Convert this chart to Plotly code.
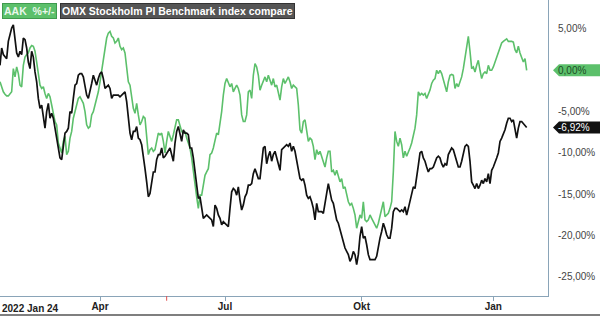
import plotly.graph_objects as go

# Percent change series (sampled evenly over one year, Jan 24 2022 -> Jan 2023)
aak = [
    -1.4,-2.0,-2.6,-2.9,-3.1,-3.1,-2.8,-2.6,0.2,-0.8,
    0.4,-0.4,-1.8,-2.0,0.6,1.6,1.9,2.1,2.7,3.0,
    2.9,2.3,1.0,-0.4,-1.8,-2.2,-2.0,-2.8,-3.4,-2.8,
    -3.2,-4.2,-5.4,-6.2,-6.6,-8.8,-9.4,-10.0,-8.6,-8.0,
    -10.2,-9.8,-8.2,-7.4,-5.8,-5.0,-4.0,-3.4,-3.2,-3.6,
    -4.0,-5.0,-6.6,-7.0,-6.8,-5.4,-5.0,-4.2,-3.4,-2.6,
    -1.4,0.0,1.0,2.3,3.9,4.5,4.7,4.1,3.9,3.3,
    3.5,3.9,2.9,2.5,2.7,2.1,0.6,-1.4,
    -1.8,-3.0,-4.6,-5.2,-4.0,-5.4,-6.6,-6.2,-5.6,-5.8,
    -7.8,-10.2,-9.6,-9.4,-9.8,-9.6,-8.6,-7.6,-7.8,-7.6,
    -8.6,-10.0,-8.6,-7.4,-8.0,-8.6,-7.8,-7.0,-6.0,-6.0,
    -6.6,-7.4,-7.6,-7.4,-8.2,-8.8,-9.4,-10.6,-12.3,-14.3,
    -15.3,-16.7,-15.1,-15.1,-13.9,-12.7,-12.3,-11.9,-10.2,-10.0,
    -9.4,-8.4,-7.6,-7.8,-6.6,-5.0,-3.0,-1.6,-1.0,-1.6,
    -2.0,-1.6,-2.6,-2.2,-1.8,-2.2,-3.0,-5.4,-6.2,-6.2,
    -5.4,-2.6,-2.4,-3.4,-0.6,0.8,0.4,-0.6,
    -2.4,-1.8,-1.2,-0.8,-1.4,-0.6,-1.2,-1.8,-1.0,-2.0,
    -1.8,-2.6,-3.6,-2.0,-1.0,-1.6,-1.2,-0.8,-1.4,-2.2,
    -1.8,-2.0,-2.2,-4.2,-7.2,-7.6,-6.2,-6.0,-7.4,-8.6,
    -8.2,-8.4,-9.2,-10.8,-9.6,-10.2,-9.8,-10.4,-11.0,-11.7,
    -10.6,-9.8,-9.8,-12.3,-12.1,-12.7,-12.1,-12.7,-13.5,-13.1,
    -14.3,-14.1,-14.9,-15.9,-16.3,-16.1,-16.7,-17.5,-19.1,-18.3,
    -17.5,-17.9,-15.9,-18.1,-18.3,-18.1,-17.5,-17.9,-18.3,-18.7,
    -19.1,-18.5,-17.5,-16.7,-15.9,-17.7,-17.5,-17.3,
    -16.7,-15.9,-12.3,-7.4,-8.6,-9.2,-8.2,-9.0,-10.6,-9.8,
    -10.4,-10.0,-9.4,-8.8,-7.8,-7.0,-5.4,-2.6,-3.0,-2.8,
    -3.0,-2.8,-3.4,-3.0,-2.4,-1.6,-1.2,-1.0,0.0,-0.4,
    0.0,-0.4,-1.2,-2.0,-2.6,-1.4,-0.6,-0.5,-0.6,-2.2,
    -1.6,-2.0,-1.4,-0.8,0.2,1.4,2.7,4.1,2.3,0.2,
    0.4,-0.2,0.6,1.2,0.0,-1.0,-0.4,-0.2,-0.4,0.6,
    0.0,0.0,0.4,1.0,1.6,2.3,2.9,3.3,3.5,3.7,
    3.8,3.5,3.5,3.5,3.4,2.5,2.1,2.9,2.1,1.6,
    1.0,1.4,0.0,
]

omx = [
    0.6,2.7,1.9,1.6,1.4,3.5,4.3,5.1,5.5,3.5,
    2.1,1.6,2.3,1.9,3.9,3.7,2.7,1.0,0.2,2.3,
    1.6,-0.2,-1.4,-3.4,-4.6,-4.2,-5.4,-7.0,-5.0,-4.0,
    -5.8,-5.2,-5.8,-7.0,-7.8,-9.4,-10.6,-10.8,-9.4,-7.6,
    -7.4,-7.0,-5.0,-5.2,-3.4,-1.8,-1.6,-0.6,-0.4,-0.4,
    -0.8,-1.8,-3.0,-3.4,-2.6,-1.6,-0.6,-1.2,-1.8,-1.0,
    -0.4,-0.2,-1.0,-2.2,-2.0,-1.8,-2.2,-3.4,-3.0,-3.0,
    -3.0,-3.0,-3.2,-3.0,-2.8,-2.6,-3.8,-5.4,
    -7.6,-8.4,-7.4,-7.4,-6.8,-8.2,-8.4,-9.0,-10.2,-11.9,
    -13.5,-15.3,-14.9,-13.5,-12.3,-12.3,-10.8,-10.2,-10.2,-9.4,
    -10.6,-10.4,-10.0,-9.8,-9.4,-10.2,-11.0,-8.8,-7.4,-6.8,
    -7.6,-8.6,-7.2,-7.6,-7.6,-7.8,-9.4,-9.4,-10.6,-12.3,
    -13.9,-15.5,-15.3,-16.7,-17.9,-17.7,-17.5,-17.7,-17.9,-18.1,
    -18.9,-16.3,-16.7,-17.5,-17.9,-18.7,-18.3,-18.5,-18.7,-18.9,
    -16.7,-14.7,-14.3,-14.5,-15.1,-14.1,-15.7,-16.9,-16.3,-15.3,
    -14.9,-13.9,-13.9,-13.7,-12.5,-11.9,-12.5,-13.1,
    -13.1,-11.5,-9.4,-9.2,-11.3,-10.4,-9.8,-11.0,-10.2,-9.8,
    -10.6,-11.3,-12.1,-9.6,-9.4,-9.2,-9.0,-9.2,-8.8,-9.8,
    -9.2,-9.8,-11.0,-12.3,-13.1,-13.3,-13.1,-13.9,-15.1,-15.5,
    -15.3,-15.9,-16.7,-18.1,-16.1,-17.1,-17.1,-17.1,-17.3,-16.3,
    -14.9,-13.7,-14.7,-15.7,-16.1,-17.1,-18.1,-18.5,-19.3,-19.9,
    -20.7,-21.5,-21.9,-22.3,-23.1,-22.7,-21.9,-22.3,-23.5,-22.3,
    -20.1,-18.9,-20.3,-20.1,-21.1,-22.3,-22.9,-22.9,-22.9,-22.9,
    -22.5,-21.1,-20.3,-19.5,-18.5,-19.1,-19.9,-20.3,
    -20.3,-19.1,-17.1,-16.7,-16.7,-16.9,-17.1,-16.9,-17.1,-16.5,
    -17.5,-16.7,-15.9,-15.1,-14.1,-14.3,-13.1,-11.5,-10.0,-9.8,
    -10.6,-11.0,-11.7,-12.3,-11.9,-11.9,-11.7,-11.0,-10.6,-10.4,
    -10.6,-11.3,-11.7,-11.3,-11.5,-10.2,-9.8,-9.4,-9.6,-10.2,
    -11.0,-11.7,-11.7,-11.0,-10.2,-9.2,-9.0,-9.2,-11.0,-13.5,
    -13.9,-14.3,-13.7,-14.3,-13.9,-13.3,-13.7,-13.1,-13.5,-12.5,
    -13.7,-12.1,-11.7,-11.0,-10.6,-10.0,-8.6,-8.2,-7.8,-7.2,
    -6.4,-5.8,-5.8,-6.2,-6.0,-7.0,-8.2,-7.0,-6.2,-6.2,
    -6.4,-6.6,-6.92,
]

x_tick_pos = [60, 135, 217, 296]
x_tick_text = ["Apr", "Jul", "Okt", "Jan"]
start_label = "2022 Jan 24"
y_tick_vals = [5, 0, -5, -10, -15, -20, -25]
y_tick_text = ["5,00%", "0,00%", "-5,00%", "-10,00%", "-15,00%", "-20,00%", "-25,00%"]
event_pos = [100]

GREEN = "#5cc06b"
BLACK = "#111111"
AXIS = "#8aa4b8"
FONT = "Liberation Sans, Arial, sans-serif"

fig = go.Figure()
fig.add_trace(go.Scatter(x=list(range(len(aak))), y=aak, mode="lines",
                         line=dict(color=GREEN, width=1.6), showlegend=False))
fig.add_trace(go.Scatter(x=list(range(len(omx))), y=omx, mode="lines",
                         line=dict(color=BLACK, width=1.7), showlegend=False))

fig.update_layout(
    width=600, height=316,
    margin=dict(l=0, r=52, t=0, b=20),
    paper_bgcolor="white", plot_bgcolor="white",
    font=dict(family=FONT, size=10, color="#333"),
    xaxis=dict(range=[0, 328.8], showgrid=False, zeroline=False,
               showline=True, linecolor=AXIS, linewidth=1,
               tickvals=x_tick_pos, ticktext=["<b>%s</b>" % t for t in x_tick_text],
               ticks="outside", ticklen=4, tickcolor=AXIS,
               ticklabelstandoff=-3,
               tickfont=dict(size=10, color="#222")),
    yaxis=dict(range=[-27.3, 8.5], side="right", showgrid=False, zeroline=False,
               showline=True, linecolor=AXIS, linewidth=1,
               tickvals=y_tick_vals, ticktext=y_tick_text, ticks="",
               ticklabelstandoff=7,
               tickfont=dict(size=10, color="#444")),
)

# start date label
fig.add_annotation(x=0, xref="paper", y=-0.016, yref="paper", xanchor="left", yanchor="top",
                   text="<b>%s</b>" % start_label, showarrow=False,
                   font=dict(size=10, color="#222"))

# event marker tick (red)
for e in event_pos:
    fig.add_shape(type="line", x0=e, x1=e, xref="x", y0=0, y1=-0.016, yref="paper",
                  line=dict(color="#e05050", width=1))

# bottom frame line
fig.add_shape(type="line", xref="paper", yref="paper", x0=0, x1=1.1, y0=-0.064, y1=-0.064,
              line=dict(color="#555555", width=1.5))

# legend boxes
fig.add_annotation(x=0.004, xref="paper", y=0.99, yref="paper", xanchor="left", yanchor="top",
                   text="<b>AAK  %+/-</b>", showarrow=False, bgcolor=GREEN,
                   bordercolor="#3f9a4e", borderwidth=1, borderpad=1,
                   font=dict(size=10.5, color="#eaf7ec"))
fig.add_annotation(x=0.11, xref="paper", y=0.99, yref="paper", xanchor="left", yanchor="top",
                   text="<b>OMX Stockholm PI Benchmark index compare</b>", showarrow=False,
                   bgcolor="#555555", bordercolor="#333333", borderwidth=1, borderpad=1,
                   font=dict(size=10.5, color="white"))

# last value tags (arrow-shaped label at the right axis)
def tag(val, bg, fg):
    txt = ("%.2f%%" % val).replace(".", ",")
    fig.add_shape(type="path", xref="paper", yref="y", xsizemode="pixel", ysizemode="pixel",
                  xanchor=1.0, yanchor=val,
                  path="M 5 0 L 11 6 L 60 6 L 60 -6 L 11 -6 Z",
                  fillcolor=bg, line=dict(width=0), layer="above")
    fig.add_annotation(x=1.0, xref="paper", y=val, yref="y", xanchor="left", yanchor="middle",
                       xshift=8, text=txt, showarrow=False,
                       font=dict(size=10, color=fg))

tag(aak[-1], GREEN, "#1d4d26")
tag(omx[-1], BLACK, "white")

fig.write_html("out.html")
